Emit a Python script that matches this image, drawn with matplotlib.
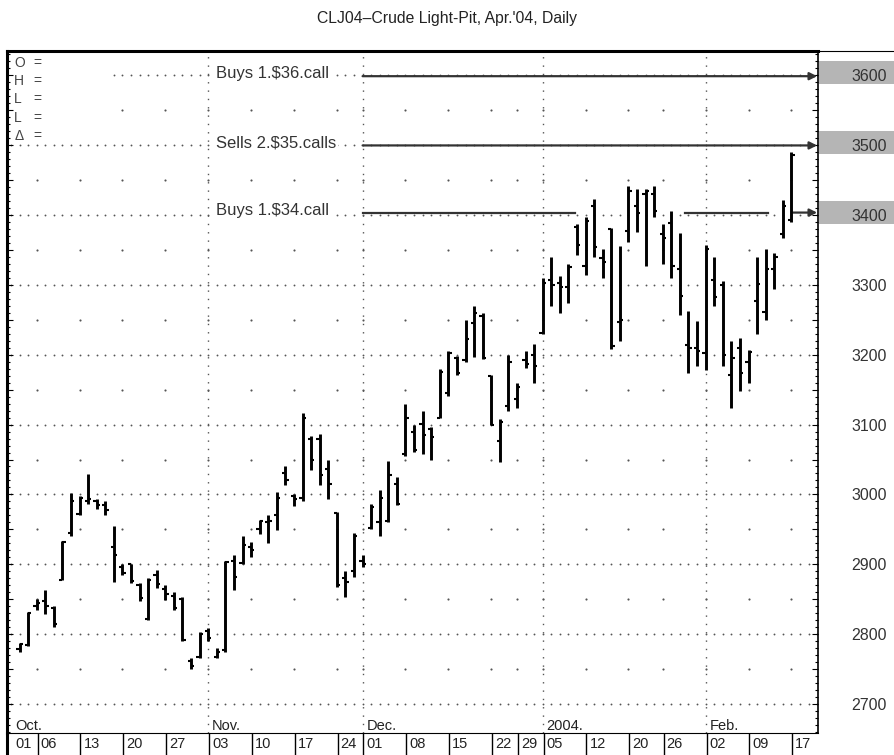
import numpy as np
import matplotlib
matplotlib.use("Agg")
import matplotlib.pyplot as plt
import matplotlib.transforms as mtransforms
from matplotlib.patches import Rectangle
from matplotlib.ticker import MultipleLocator, FuncFormatter

plt.rcParams["font.family"] = ["Liberation Sans", "DejaVu Sans"]

# daily OHLC, CLJ04 (cents), one entry per trading day from early Oct 2003
opens = [2779, 2785, 2840, 2848, 2838, 2878, 2945, 2972, 2990, 2990,
         2985, 2925, 2897, 2900, 2870, 2822, 2885, 2865, 2855, 2850,
         2762, 2768, 2805, 2768, 2777, 2905, 2902, 2925, 2950, 2960,
         2971, 3030, 2998, 2995, 3080, 3080, 3036, 2974, 2880, 2890,
         2905, 2952, 2960, 2962, 3015, 3058, 3090, 3101, 3093, 3110,
         3145, 3195, 3192, 3245, 3255, 3170, 3076, 3126, 3136, 3192,
         3200, 3231, 3306, 3302, 3297, 3382, 3327, 3412, 3338, 3379,
         3246, 3377, 3412, 3430, 3429, 3372, 3388, 3322, 3214, 3210,
         3202, 3306, 3300, 3171, 3210, 3190, 3276, 3261, 3322, 3372,
         3393]
highs = [2788, 2832, 2851, 2863, 2840, 2933, 3002, 2998, 3029, 2994,
         2990, 2955, 2900, 2901, 2874, 2880, 2892, 2870, 2860, 2853,
         2766, 2803, 2809, 2780, 2905, 2913, 2940, 2932, 2963, 2970,
         3004, 3040, 3001, 3117, 3083, 3086, 3049, 2975, 2890, 2945,
         2913, 2987, 3006, 3048, 3025, 3130, 3100, 3119, 3097, 3179,
         3205, 3198, 3249, 3270, 3260, 3171, 3108, 3200, 3159, 3205,
         3215, 3309, 3340, 3313, 3330, 3386, 3397, 3422, 3351, 3381,
         3355, 3441, 3437, 3437, 3441, 3387, 3405, 3374, 3263, 3248,
         3356, 3340, 3305, 3219, 3224, 3207, 3340, 3351, 3345, 3421,
         3489]
lows = [2775, 2783, 2835, 2829, 2810, 2878, 2940, 2970, 2986, 2979,
        2970, 2875, 2885, 2874, 2847, 2820, 2866, 2849, 2835, 2790,
        2750, 2766, 2791, 2766, 2775, 2864, 2900, 2911, 2944, 2930,
        2949, 3013, 2983, 2990, 3035, 3013, 2994, 2868, 2853, 2882,
        2897, 2950, 2940, 2960, 2985, 3055, 3061, 3058, 3050, 3109,
        3141, 3171, 3190, 3196, 3193, 3100, 3047, 3119, 3123, 3181,
        3159, 3230, 3270, 3259, 3274, 3343, 3314, 3339, 3309, 3208,
        3219, 3361, 3375, 3326, 3396, 3330, 3310, 3257, 3173, 3184,
        3178, 3270, 3184, 3123, 3148, 3159, 3230, 3250, 3294, 3367,
        3390]
closes = [2786, 2830, 2845, 2840, 2815, 2932, 2990, 2995, 2994, 2985,
          2978, 2913, 2888, 2876, 2852, 2878, 2872, 2858, 2838, 2792,
          2755, 2800, 2795, 2775, 2903, 2882, 2928, 2920, 2962, 2962,
          2995, 3020, 2993, 3110, 3049, 3028, 3015, 2870, 2875, 2940,
          2901, 2982, 2995, 3028, 2987, 3110, 3064, 3085, 3082, 3175,
          3202, 3174, 3222, 3260, 3195, 3100, 3104, 3189, 3153, 3187,
          3183, 3302, 3300, 3297, 3325, 3357, 3391, 3354, 3333, 3212,
          3250, 3434, 3403, 3434, 3405, 3367, 3327, 3284, 3210, 3205,
          3351, 3282, 3200, 3195, 3174, 3203, 3301, 3323, 3340, 3413,
          3485]

# week start positions (trading-day index) and their day-of-month labels
week_idx = [-0.9, 2, 7, 12, 17, 22, 27, 32, 37, 40, 45, 50, 55, 58, 61,
            66, 71, 75, 80, 85, 90]
week_lbl = ["01", "06", "13", "20", "27", "03", "10", "17", "24", "01",
            "08", "15", "22", "29", "05", "12", "20", "26", "02", "09", "17"]
month_idx = [-0.9, 22, 40, 61, 80]
month_lbl = ["Oct.", "Nov.", "Dec.", "2004.", "Feb."]

# option strategy notes
call_lvls = [3598, 3499, 3403]
call_txt = ["Buys 1.$36.call", "Sells 2.$35.calls", "Buys 1.$34.call"]
call_segs = [[(40, 93.0)], [(40, 93.0)], [(40, 64.8), (77.6, 87.3), (90.2, 93.0)]]
boxed = [3600, 3500, 3400]

fig = plt.figure(figsize=(8.94, 7.55), dpi=100)
ax = fig.add_axes([7 / 894, 22 / 755, 811 / 894, 682 / 755])

# grid: dotted lines each 100, single dots at half levels on week lines
gx, gy = np.meshgrid(np.arange(-1, 94), np.arange(2700, 3601, 100))
ax.scatter(gx.ravel(), gy.ravel(), s=1.8, color="#555555", lw=0, zorder=1)
wx, wy = np.meshgrid(week_idx[1:], np.arange(2750, 3551, 100))
ax.scatter(wx.ravel(), wy.ravel(), s=2.4, color="#555555", lw=0, zorder=1)
for m in month_idx[1:]:
    ax.axvline(m, color="#555555", lw=1.0, ls=(0, (1, 5)), zorder=1)

# blank area behind the O/H/L readout
ax.add_patch(Rectangle((0, 0.8695), 0.129, 0.1305, transform=ax.transAxes,
                       facecolor="white", edgecolor="none", zorder=1.5))
for i, s in enumerate(["O", "H", "L", "L", "\u0394"]):
    yy = (733 - (62.7 + 18.3 * i)) / 682
    ax.text(0.009, yy, s, transform=ax.transAxes, fontsize=10,
            color="#444444", va="center", zorder=4)
    ax.text(0.032, yy, "=", transform=ax.transAxes, fontsize=10,
            color="#444444", va="center", zorder=4)

# call annotations
for lvl, txt, segs in zip(call_lvls, call_txt, call_segs):
    ax.text(22.9, lvl - 3, txt, fontsize=12, color="#333333", va="baseline",
            bbox=dict(facecolor="white", edgecolor="none", pad=1.5), zorder=4)
    for k, (a, b) in enumerate(segs):
        if k == len(segs) - 1:
            ax.annotate("", xy=(b, lvl), xytext=(a, lvl),
                        arrowprops=dict(arrowstyle="-|>", color="#333333",
                                        lw=1.6, mutation_scale=11,
                                        shrinkA=0, shrinkB=0), zorder=4)
        else:
            ax.plot([a, b], [lvl, lvl], color="#333333", lw=1.6, zorder=4)

# OHLC bars
x = np.arange(len(opens))
ax.vlines(x, lows, highs, color="black", lw=2.1, zorder=5)
ax.hlines(opens, x - 0.38, x, color="black", lw=1.5, zorder=5)
ax.hlines(closes, x, x + 0.38, color="black", lw=1.5, zorder=5)

# date row below the plot
trans = mtransforms.blended_transform_factory(ax.transData, ax.transAxes)
off_d = trans + mtransforms.ScaledTranslation(3 / 100, 0, fig.dpi_scale_trans)
sep0 = -22 / 682
ax.vlines(np.array(week_idx[1:]) + 0.1, sep0, 0, transform=trans,
          color="black", lw=1.0, clip_on=False)
for xi, lbl in zip(week_idx, week_lbl):
    ax.text(xi + 0.1, -11.5 / 682, lbl, transform=off_d, fontsize=10.5,
            color="#222222", ha="left", va="center", clip_on=False)
for xi, lbl in zip(month_idx, month_lbl):
    ax.text(xi + 0.1, 0.004, lbl, transform=off_d, fontsize=10.5,
            color="#222222", ha="left", va="baseline", zorder=4)
ax.plot([0, 0], [sep0, 0], transform=ax.transAxes, color="black", lw=2.2,
        clip_on=False)

# price scale on the right
for b in boxed:
    ax.add_patch(Rectangle((1.001, b + 3 - 16.5), 0.095, 33,
                           transform=ax.get_yaxis_transform(),
                           facecolor="#b5b5b5", edgecolor="none",
                           clip_on=False, zorder=0))
ax.plot([1, 1.1], [1, 1], transform=ax.transAxes, color="black", lw=0.8,
        clip_on=False)

ax.set_xlim(-1.46, 93.1)
ax.set_ylim(2659, 3634)
ax.set_xticks([])
ax.yaxis.set_major_locator(MultipleLocator(50))
ax.yaxis.set_minor_locator(MultipleLocator(10))
ax.yaxis.set_major_formatter(FuncFormatter(lambda v, p: f"{int(v)}" if v % 100 == 0 else ""))
ax.tick_params(axis="y", which="both", direction="in", left=True, right=True,
               labelleft=False, labelright=True, width=0.8)
ax.tick_params(axis="y", which="major", length=4, pad=23.8, labelsize=11.5,
               labelcolor="#333333")
ax.tick_params(axis="y", which="minor", length=2.5)

ax.spines["top"].set_linewidth(2.2)
ax.spines["left"].set_linewidth(2.2)
ax.spines["right"].set_linewidth(1.2)
ax.spines["bottom"].set_linewidth(0.8)

fig.text(0.5, 1 - 18 / 755, "CLJ04\u2013Crude Light-Pit, Apr.'04, Daily",
         ha="center", va="center", fontsize=11.3, color="#222222")

fig.savefig("out.png", dpi=100)
